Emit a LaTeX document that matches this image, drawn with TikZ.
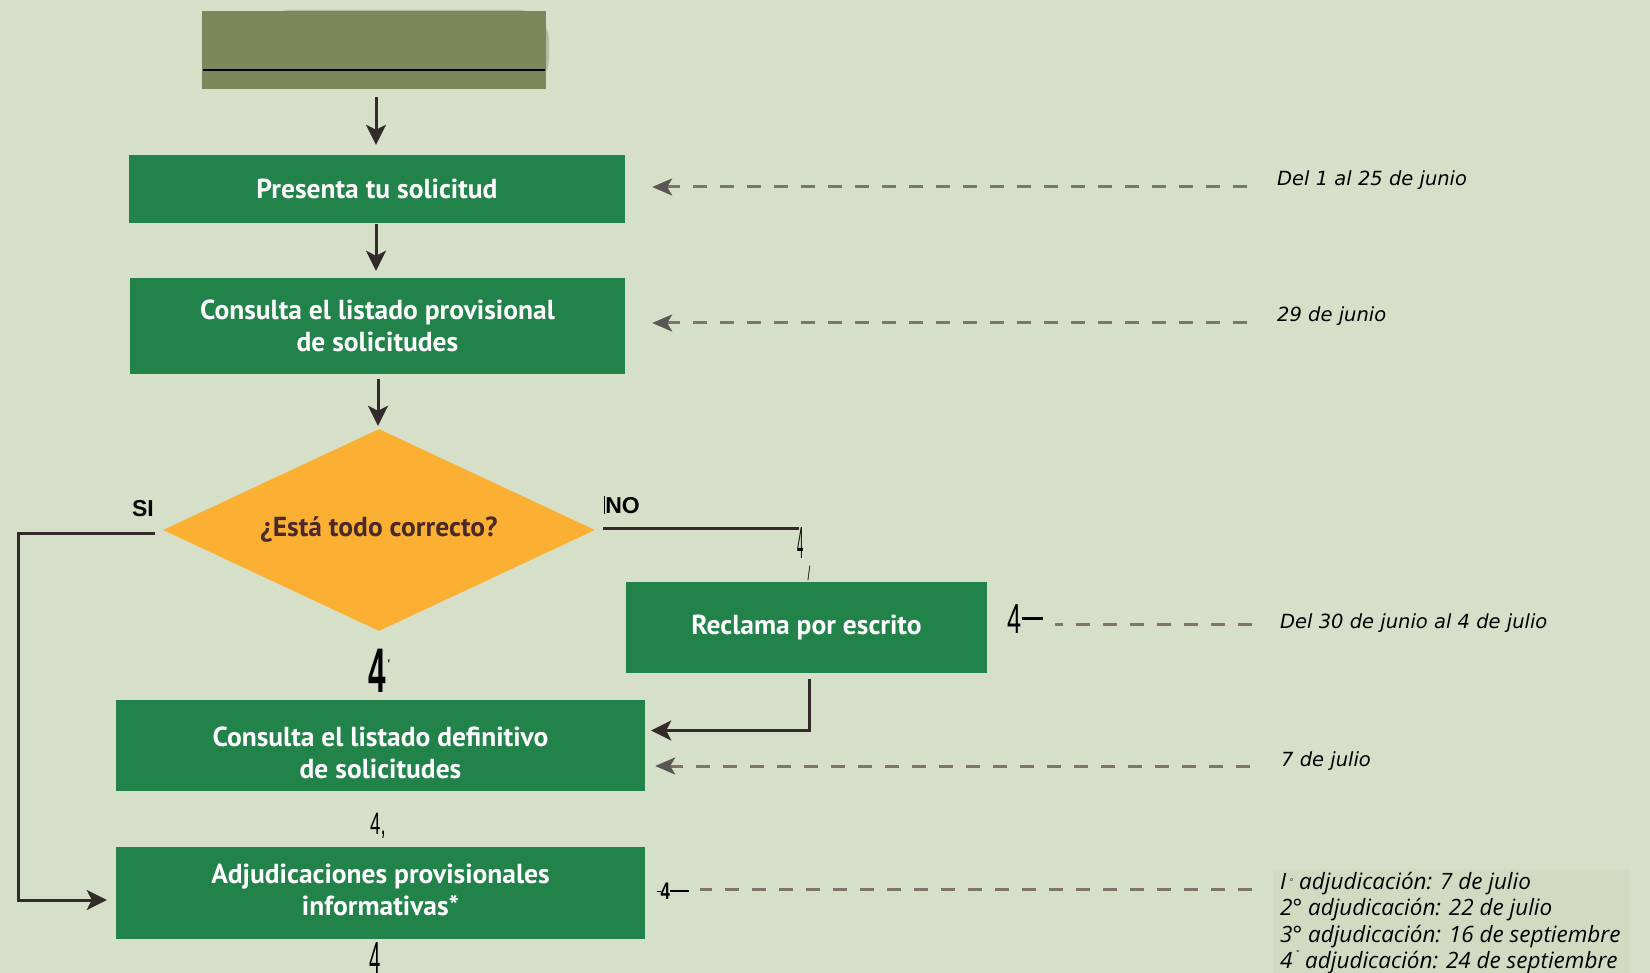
\documentclass[tikz,border=0pt]{standalone}
\usepackage{fontspec}
\usetikzlibrary{arrows.meta,shapes.geometric}
\newfontfamily\boxfont{PT Sans}
\newfontfamily\labfont{Liberation Sans}
\newfontfamily\datefont{DejaVu Sans}
\newfontfamily\condfont{Open Sans}
\newfontfamily\narrowfont{Liberation Sans}
\definecolor{bg}{HTML}{D6E0C8}
\definecolor{bgpatch}{HTML}{D1DBC2}
\definecolor{boxgreen}{HTML}{21824A}
\definecolor{olive}{HTML}{7A885C}
\definecolor{shadowgrey}{HTML}{8E8E80}
\definecolor{diam}{HTML}{FBB034}
\definecolor{diamtxt}{HTML}{4A2A28}
\definecolor{linec}{HTML}{332A2A}
\definecolor{dashc}{HTML}{80726C}
\definecolor{dashhead}{HTML}{5A5653}
\tikzset{
  stepbox/.style={fill=boxgreen, text=white, inner sep=0pt, align=center,
    font=\boxfont\bfseries\fontsize{27.5}{32}\selectfont},
  boxtext/.style={text=white, inner sep=0pt, align=center,
    font=\boxfont\bfseries\fontsize{27.5}{32}\selectfont},
  arr/.style={draw=linec, line width=3pt,
    -{Stealth[length=20pt,width=20pt,inset=5pt]}},
  plainline/.style={draw=linec, line width=3pt},
  darr/.style={draw=dashc, line width=3pt, dash pattern=on 14pt off 13pt,
    -{Stealth[length=20pt,width=17pt,inset=5pt,color=dashhead,sep=0pt]}},
  dline/.style={draw=dashc, line width=3pt, dash pattern=on 14pt off 13pt},
  datetxt/.style={anchor=west, inner sep=0pt, text=black,
    font=\datefont\itshape\fontsize{19.5}{24}\selectfont},
  yesno/.style={inner sep=0pt, text=black, font=\labfont\bfseries\fontsize{23}{26}\selectfont},
  glyph/.style={inner sep=0pt, text=black}
}
\begin{document}
\begin{tikzpicture}[x=1pt,y=-1pt]
\fill[bg] (0,0) rectangle (1650,973);
\useasboundingbox (0,0) rectangle (1650,973);
\clip (0,0) rectangle (1650,973);
\fill[bgpatch] (1273,869) rectangle (1630,973);

% top olive box with its shadow
\fill[shadowgrey!45!bg, rounded corners=30pt] (260,10) rectangle (549,89);
\node[fill=olive, minimum width=344pt, minimum height=78pt, inner sep=0pt] (top) at (374,50) {};
\draw[line width=2.5pt, black] (203,70) -- (545,70);

% boxes
\node[stepbox, minimum width=496pt, minimum height=68pt] (presenta) at (377,189) {Presenta tu solicitud};
\node[stepbox, minimum width=495pt, minimum height=96pt] (prov) at (377.5,326) {Consulta el listado provisional\\de solicitudes};
\node[shape=diamond, fill=diam, shape aspect=2.14, minimum width=432pt, minimum height=202pt, inner sep=0pt,
  text=diamtxt, font=\boxfont\bfseries\fontsize{27.5}{30}\selectfont] (dia) at (379,530) {¿Está todo correcto?};
\node[stepbox, minimum width=361pt, minimum height=91pt] (recl) at (806.5,627.5) {Reclama por escrito};
\node[stepbox, minimum width=529pt, minimum height=91pt] (def) at (380.5,745.5) {};
\node[boxtext] (deftxt) at ([yshift=-7pt]def.center) {Consulta el listado definitivo\\de solicitudes};
\node[stepbox, minimum width=529pt, minimum height=92pt] (adj) at (380.5,893) {};
\node[boxtext] (adjtxt) at ([yshift=3pt]adj.center) {Adjudicaciones provisionales\\informativas*};

% labels SI / NO
\node[yesno] (si) at (143,509) {SI};
\node[yesno] (no) at (622,505) {\rule[-1pt]{1pt}{18pt}NO};

% solid connectors
\draw[arr, shorten <=8pt, shorten >=10pt] (top.south -| 376,0) -- (presenta.north -| 376,0);
\draw[arr, shorten <=1pt, shorten >=7pt] (presenta.south -| 376,0) -- (prov.north -| 376,0);
\draw[arr, shorten <=5pt, shorten >=3pt] (prov.south -| 378,0) -- (dia.north -| 378,0);
\coordinate (sicorner) at (18,533);
\draw[arr, shorten >=9pt] ([xshift=-8pt,yshift=-3pt]dia.west) -- (sicorner) |- ([yshift=-7pt]adj.west);
\coordinate (nocorner) at (799,528);
\draw[plainline] ([xshift=8pt,yshift=2pt]dia.east) -- (nocorner);
\draw[arr, shorten <=6pt, shorten >=6pt] ([xshift=2.5pt]recl.south) |- ([yshift=15pt]def.east);

% arrow-like glyphs printed as text
\node[glyph, font=\narrowfont\fontsize{45}{45}\selectfont] (g1) at (801,543) {\scalebox{0.25}[1]{4}};
\node[glyph, font=\narrowfont\fontsize{20}{20}\selectfont] (g1b) at (809,573) {\scalebox{0.5}[1]{/}};
\node[glyph, font=\narrowfont\bfseries\fontsize{63}{63}\selectfont] (g2) at (377,671) {\scalebox{0.5}[1]{4}};
\node[glyph, font=\narrowfont\fontsize{14}{14}\selectfont] (g2b) at (389,665) {'};
\node[glyph, font=\narrowfont\fontsize{31}{31}\selectfont] (g3) at (378,826) {\scalebox{0.6}[1]{4,}};
\node[glyph, font=\narrowfont\fontsize{45}{45}\selectfont, anchor=north] (g4) at (375,942) {\scalebox{0.45}[1]{4}};
\node[glyph, font=\narrowfont\fontsize{42}{42}\selectfont] (g5) at (1025,619) {\scalebox{0.6}[1]{4}\rule[0.33em]{0.5em}{2.5pt}};
\node[glyph, font=\narrowfont\bfseries\fontsize{24}{24}\selectfont] (g6) at (673,891) {\rule[0.3em]{4pt}{1.5pt}\scalebox{0.7}[1]{4}\rule[0.3em]{0.8em}{2pt}};

% dates
\node[datetxt] (d1) at (1277,180) {Del 1 al 25 de junio};
\node[datetxt] (d2) at (1277,316) {29 de junio};
\node[datetxt] (d3) at (1280,623) {Del 30 de junio al 4 de julio};
\node[datetxt] (d4) at (1281,761) {7 de julio};
\node[anchor=north west, inner sep=0pt, align=left, text=black,
  font=\condfont\itshape\fontsize{22.5}{26.3}\selectfont] (d5) at (1280,872)
  {I\,\textsuperscript{\tiny\itshape a} adjudicación: 7 de julio\\
   2° adjudicación: 22 de julio\\
   3° adjudicación: 16 de septiembre\\
   4\,\raisebox{0.55em}{\scriptsize °} adjudicación: 24 de septiembre};

% dashed connectors
\coordinate (s1) at (1247,187);
\coordinate (s2) at (1247,323);
\coordinate (s3) at (1252,624);
\coordinate (e3) at (1055,624);
\coordinate (s4) at (1250,766);
\coordinate (s5) at (1252,889);
\coordinate (e5) at (700,889);
\draw[darr, shorten >=27pt] (s1) -- (s1 -| presenta.east);
\draw[darr, shorten >=27pt] (s2) -- (s2 -| prov.east);
\draw[dline] (s3) -- (e3);
\draw[darr, shorten >=10pt] (s4) -- (s4 -| def.east);
\draw[dline] (s5) -- (e5);
\end{tikzpicture}
\end{document}
